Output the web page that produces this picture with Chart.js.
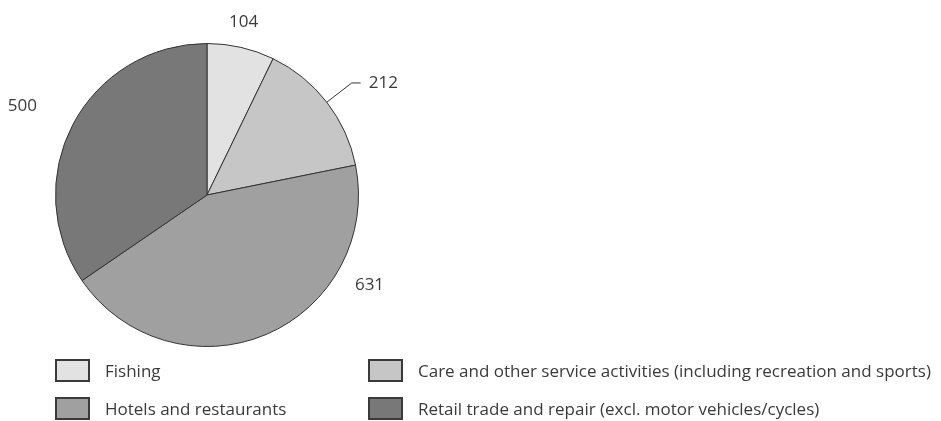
<!DOCTYPE html>
<html>
<head>
<meta charset="utf-8">
<script src="https://cdn.jsdelivr.net/npm/chart.js@4"></script>
<style>
  body { margin: 0; background: #fff; }
  #wrap { position: relative; width: 941px; height: 421px; font-family: "Open Sans", sans-serif; color: #3a3a3a; }
  #legend .item { position: absolute; display: flex; align-items: center; font-size: 17px; white-space: nowrap; }
  #legend .box { width: 35px; height: 23px; box-sizing: border-box; border: 2px solid #3a3a3a; margin-right: 15px; }
</style>
</head>
<body>
<div id="wrap">
  <canvas id="pie" width="941" height="421"></canvas>
  <div id="legend"></div>
</div>
<script>
const categories = [
  'Fishing',
  'Care and other service activities (including recreation and sports)',
  'Hotels and restaurants',
  'Retail trade and repair (excl. motor vehicles/cycles)'
]
const values = [104, 212, 631, 500]
const colors = ['#e2e2e2', '#c6c6c6', '#a0a0a0', '#787878']

// where each value label sits: angle shift from the slice middle (deg), distance from centre (px)
const labelPlace = [
  {shift: -1, dist: 177},
  {shift: 0, dist: 183, leader: true},
  {shift: -38, dist: 186},
  {shift: -2, dist: 205}
]

const valueLabels = {
  id: 'valueLabels',
  afterDatasetsDraw(chart) {
    const ctx = chart.ctx
    const meta = chart.getDatasetMeta(0)
    ctx.save()
    ctx.font = '17px "Open Sans", sans-serif'
    ctx.fillStyle = '#3a3a3a'
    ctx.strokeStyle = '#333'
    ctx.lineWidth = 1
    ctx.textBaseline = 'middle'
    meta.data.forEach((arc, i) => {
      const p = labelPlace[i]
      const mid = (arc.startAngle + arc.endAngle) / 2 + p.shift * Math.PI / 180
      const lx = arc.x + Math.cos(mid) * p.dist
      const ly = arc.y + Math.sin(mid) * p.dist
      const txt = String(values[i])
      if (p.leader) {
        const sx = arc.x + Math.cos(mid) * arc.outerRadius
        const sy = arc.y + Math.sin(mid) * arc.outerRadius
        ctx.beginPath()
        ctx.moveTo(sx, sy)
        ctx.lineTo(lx, ly)
        ctx.lineTo(lx + 9, ly)
        ctx.stroke()
        ctx.textAlign = 'left'
        ctx.fillText(txt, lx + 17, ly)
      } else {
        ctx.textAlign = 'center'
        ctx.fillText(txt, lx, ly)
      }
    })
    ctx.restore()
  }
}

new Chart(document.getElementById('pie'), {
  type: 'pie',
  data: {
    labels: categories,
    datasets: [{
      data: values,
      backgroundColor: colors,
      borderColor: '#333',
      borderWidth: 1
    }]
  },
  options: {
    responsive: false,
    animation: false,
    layout: { padding: { left: 55, top: 43, right: 582, bottom: 74 } },
    plugins: {
      legend: { display: false },
      tooltip: { enabled: false }
    }
  },
  plugins: [valueLabels]
})

// two-column legend under the pie
const legendPos = [[55, 359], [368, 359], [55, 397], [368, 397]]
const legend = document.getElementById('legend')
categories.forEach((name, i) => {
  const item = document.createElement('div')
  item.className = 'item'
  item.style.left = legendPos[i][0] + 'px'
  item.style.top = legendPos[i][1] + 'px'
  item.style.height = '23px'
  const box = document.createElement('span')
  box.className = 'box'
  box.style.background = colors[i]
  const label = document.createElement('span')
  label.textContent = name
  item.appendChild(box)
  item.appendChild(label)
  legend.appendChild(item)
})
</script>
</body>
</html>
